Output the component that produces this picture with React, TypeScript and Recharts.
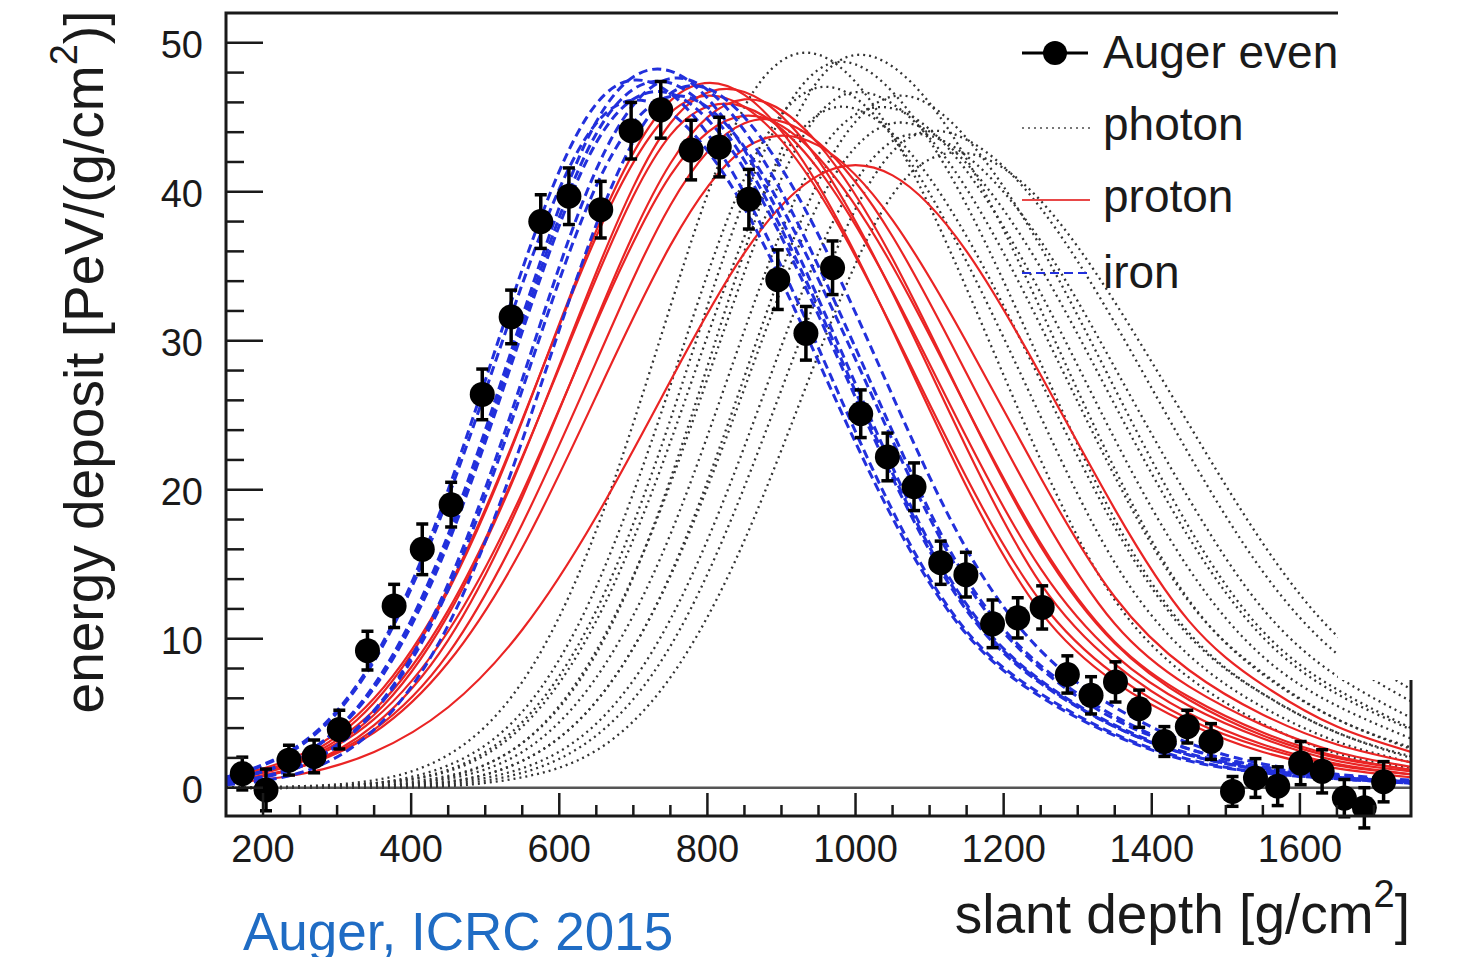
import React from 'react';
import { ComposedChart, Line, Scatter, ErrorBar, XAxis, YAxis, ReferenceLine } from 'recharts';

const FONT = '"Liberation Sans", Arial, Helvetica, sans-serif';
const INK = '#1a1a1a';
const IRON_BLUE = '#2230dc';
const PROTON_RED = '#ea2424';
const PHOTON_GREY = '#333333';
const CAPTION_BLUE = '#1f6cc4';

const W = 1460;
const H = 957;
const PLOT = { left: 226, top: 13, right: 1411, bottom: 816 };

// slant depth grid the simulated profiles are read at
const GRID = [150, 250, 350, 450, 550, 650, 750, 850, 950, 1050, 1150, 1250, 1350, 1450, 1550, 1650, 1750];

// iron (blue dashed)
const IRON_1 = [0.7, 2.9, 8.7, 20.0, 34.8, 45.9, 46.6, 39.9, 29.5, 18.6, 10.5, 6.3, 3.6, 1.9, 1.0, 0.6, 0.3];
const IRON_2 = [0.7, 2.8, 8.5, 19.5, 33.8, 44.6, 45.3, 38.9, 28.6, 18.1, 10.3, 6.1, 3.5, 1.8, 1.0, 0.6, 0.3];
const IRON_3 = [0.5, 2.1, 6.9, 17.0, 31.6, 44.7, 48.1, 42.8, 32.8, 21.5, 12.3, 7.2, 4.2, 2.3, 1.3, 0.7, 0.4];
const IRON_4 = [0.5, 2.1, 6.7, 16.4, 30.6, 43.3, 46.6, 41.5, 31.7, 20.8, 11.9, 7.0, 4.1, 2.2, 1.2, 0.6, 0.4];
const IRON_5 = [0.5, 2.1, 6.8, 16.7, 31.1, 43.9, 47.3, 42.1, 32.2, 21.1, 12.1, 7.1, 4.1, 2.2, 1.2, 0.7, 0.4];
const IRON_6 = [0.3, 1.5, 5.2, 13.7, 27.4, 41.5, 47.6, 44.1, 35.0, 23.9, 14.0, 8.2, 4.8, 2.6, 1.4, 0.8, 0.4];
const IRON_7 = [0.3, 1.4, 5.1, 13.3, 26.7, 40.4, 46.4, 43.0, 34.1, 23.3, 13.7, 8.0, 4.6, 2.6, 1.4, 0.7, 0.4];
const IRON_8 = [0.2, 1.0, 3.9, 10.9, 23.3, 37.8, 46.6, 45.0, 37.1, 26.3, 16.0, 9.2, 5.4, 3.0, 1.6, 0.9, 0.5];

// proton (red solid)
const PROTON_1 = [0.6, 2.0, 5.7, 13.2, 24.6, 37.4, 46.1, 46.5, 40.4, 30.7, 20.2, 11.8, 7.1, 4.3, 2.4, 1.3, 0.7];
const PROTON_2 = [0.7, 2.2, 6.0, 13.4, 24.7, 37.0, 45.3, 45.7, 40.0, 30.8, 20.8, 12.5, 7.6, 4.6, 2.7, 1.5, 0.9];
const PROTON_3 = [0.5, 1.8, 4.9, 11.6, 22.1, 34.6, 44.6, 46.7, 42.1, 33.2, 22.8, 13.7, 8.3, 5.0, 2.9, 1.6, 0.9];
const PROTON_4 = [0.6, 1.9, 5.2, 11.9, 22.2, 34.2, 43.8, 45.7, 41.5, 33.3, 23.5, 14.7, 8.9, 5.5, 3.3, 1.8, 1.1];
const PROTON_5 = [0.4, 1.4, 4.2, 9.9, 19.5, 31.4, 41.9, 46.2, 43.2, 35.5, 25.5, 16.2, 9.7, 5.9, 3.5, 2.0, 1.2];
const PROTON_6 = [0.5, 1.7, 4.6, 10.5, 19.8, 31.2, 41.1, 45.1, 42.3, 35.0, 25.5, 16.4, 9.8, 6.1, 3.7, 2.1, 1.2];
const PROTON_7 = [0.4, 1.4, 3.9, 9.0, 17.7, 28.6, 39.1, 44.6, 43.3, 37.0, 27.8, 18.5, 11.0, 6.8, 4.2, 2.4, 1.4];
const PROTON_8 = [0.4, 1.4, 3.7, 8.4, 16.1, 26.3, 36.4, 42.9, 43.1, 38.1, 29.9, 20.8, 12.8, 7.9, 4.9, 2.9, 1.7];
const PROTON_9 = [0.3, 0.9, 2.4, 5.4, 10.6, 18.2, 27.3, 35.9, 41.1, 41.1, 36.0, 27.7, 18.7, 11.2, 6.9, 4.1, 2.4];

// photon (black dotted)
const PHOTON_1 = [0.0, 0.1, 0.5, 2.2, 7.1, 17.3, 32.3, 45.7, 49.2, 43.8, 33.5, 22.0, 12.6, 7.4, 4.3, 2.3, 1.3];
const PHOTON_2 = [0.0, 0.0, 0.3, 1.5, 5.1, 13.5, 27.0, 40.9, 47.0, 43.7, 35.3, 24.9, 15.1, 8.9, 5.4, 3.1, 1.7];
const PHOTON_3 = [0.0, 0.0, 0.3, 1.2, 4.4, 11.9, 24.7, 39.5, 48.2, 46.7, 39.1, 28.5, 18.0, 10.4, 6.3, 3.7, 2.0];
const PHOTON_4 = [0.0, 0.0, 0.3, 1.1, 4.1, 11.2, 23.2, 37.0, 45.2, 43.9, 37.0, 27.3, 17.5, 10.2, 6.3, 3.7, 2.1];
const PHOTON_5 = [0.0, 0.0, 0.1, 0.7, 3.0, 9.0, 20.7, 36.0, 47.5, 48.4, 42.2, 32.1, 21.4, 12.6, 7.6, 4.6, 2.6];
const PHOTON_6 = [0.0, 0.0, 0.2, 0.8, 3.0, 9.2, 20.4, 34.6, 45.2, 45.9, 40.2, 31.0, 20.9, 12.5, 7.7, 4.6, 2.7];
const PHOTON_7 = [0.0, 0.0, 0.1, 0.6, 2.4, 7.4, 17.0, 30.7, 42.5, 45.6, 41.4, 33.2, 23.4, 14.7, 8.8, 5.5, 3.3];
const PHOTON_8 = [0.0, 0.0, 0.1, 0.4, 1.8, 5.8, 14.3, 27.6, 40.7, 46.4, 43.6, 36.3, 26.8, 17.5, 10.5, 6.6, 4.0];
const PHOTON_9 = [0.0, 0.0, 0.1, 0.4, 1.8, 5.8, 14.2, 26.8, 39.2, 44.6, 41.9, 34.9, 25.7, 16.8, 10.1, 6.3, 3.9];
const PHOTON_10 = [0.0, 0.0, 0.0, 0.3, 1.3, 4.3, 11.3, 22.9, 35.9, 43.4, 42.4, 36.7, 28.2, 19.4, 12.0, 7.5, 4.7];
const PHOTON_11 = [0.0, 0.0, 0.0, 0.2, 1.0, 3.5, 9.5, 20.2, 33.2, 42.7, 43.5, 38.9, 31.2, 22.4, 14.5, 9.0, 5.8];
const PHOTON_12 = [0.0, 0.0, 0.0, 0.1, 0.7, 2.5, 7.4, 16.6, 29.1, 39.8, 42.6, 39.4, 32.6, 24.4, 16.4, 10.2, 6.6];

// measured event
const AUGER_X = [172, 204, 235, 269, 303, 341, 377, 415, 454, 496, 535, 575, 613, 656, 697, 737, 778, 816, 856, 895, 933, 969, 1007, 1043, 1079, 1115, 1149, 1185, 1219, 1252, 1286, 1318, 1351, 1383, 1417, 1448, 1480, 1509, 1540, 1570, 1601, 1630, 1660, 1687, 1713];
const AUGER_Y = [0.95, -0.15, 1.85, 2.1, 3.9, 9.2, 12.2, 16.0, 19.0, 26.4, 31.6, 38.0, 39.7, 38.8, 44.1, 45.5, 42.8, 43.0, 39.5, 34.1, 30.5, 34.9, 25.1, 22.2, 20.2, 15.1, 14.3, 11.0, 11.4, 12.1, 7.6, 6.2, 7.1, 5.3, 3.1, 4.1, 3.1, -0.25, 0.65, 0.1, 1.65, 1.1, -0.7, -1.35, 0.4];
const AUGER_ERR = [1.1, 1.4, 1.0, 1.1, 1.3, 1.3, 1.45, 1.7, 1.5, 1.7, 1.8, 1.8, 1.9, 1.9, 1.9, 1.9, 2.0, 2.0, 2.0, 2.0, 1.8, 1.8, 1.6, 1.6, 1.6, 1.45, 1.5, 1.6, 1.35, 1.45, 1.25, 1.25, 1.35, 1.25, 1.0, 1.1, 1.2, 1.0, 1.3, 1.3, 1.45, 1.45, 1.25, 1.35, 1.35];

const X_TICKS = [200, 250, 300, 350, 400, 450, 500, 550, 600, 650, 700, 750, 800, 850, 900, 950, 1000, 1050, 1100, 1150, 1200, 1250, 1300, 1350, 1400, 1450, 1500, 1550, 1600, 1650, 1700];
const Y_TICKS = [0, 2, 4, 6, 8, 10, 12, 14, 16, 18, 20, 22, 24, 26, 28, 30, 32, 34, 36, 38, 40, 42, 44, 46, 48, 50];

const IRON = [IRON_1, IRON_2, IRON_3, IRON_4, IRON_5, IRON_6, IRON_7, IRON_8];
const PROTON = [PROTON_1, PROTON_2, PROTON_3, PROTON_4, PROTON_5, PROTON_6, PROTON_7, PROTON_8, PROTON_9];
const PHOTON = [PHOTON_1, PHOTON_2, PHOTON_3, PHOTON_4, PHOTON_5, PHOTON_6, PHOTON_7, PHOTON_8, PHOTON_9, PHOTON_10, PHOTON_11, PHOTON_12];

const rows = GRID.map((x, i) => {
  const r: Record<string, number> = { x };
  IRON.forEach((c, k) => { r[`fe${k}`] = c[i]; });
  PROTON.forEach((c, k) => { r[`p${k}`] = c[i]; });
  PHOTON.forEach((c, k) => { r[`g${k}`] = c[i]; });
  return r;
});

const auger = AUGER_X.map((x, i) => ({ x, y: AUGER_Y[i], err: AUGER_ERR[i] }));

function YTick(props: any) {
  const { y, payload } = props;
  const v = payload.value;
  const major = v % 10 === 0;
  return (
    <g>
      <line x1={PLOT.left} x2={PLOT.left + (major ? 37 : 18)} y1={y} y2={y} stroke={INK} strokeWidth={2.5} />
      {major && (
        <text x={203} y={y + 15} textAnchor="end" fontSize={38} fontFamily={FONT} fill={INK}>{v}</text>
      )}
    </g>
  );
}

function XTick(props: any) {
  const { x, payload } = props;
  const v = payload.value;
  const major = v % 200 === 0;
  return (
    <g>
      <line x1={x} x2={x} y1={PLOT.bottom} y2={PLOT.bottom - (major ? 23 : 11)} stroke={INK} strokeWidth={2.5} />
      {major && (
        <text x={x} y={862} textAnchor="middle" fontSize={38} fontFamily={FONT} fill={INK}>{v}</text>
      )}
    </g>
  );
}

const EventDot = (p: any) => <circle cx={p.cx} cy={p.cy} r={12.5} fill="#000" />;

export default function App() {
  return (
    <div style={{ position: 'absolute', left: 0, top: 0, width: W, height: H, background: '#fff', overflow: 'hidden' }}>
      <ComposedChart
        width={W}
        height={H}
        data={rows}
        margin={{ top: PLOT.top, right: W - PLOT.right, bottom: 0, left: 0 }}
      >
        <XAxis
          dataKey="x"
          type="number"
          domain={[150, 1750]}
          allowDataOverflow
          ticks={X_TICKS}
          interval={0}
          tick={XTick}
          tickLine={false}
          axisLine={false}
          height={H - PLOT.bottom}
        />
        <YAxis
          type="number"
          domain={[-1.9, 52]}
          allowDataOverflow
          ticks={Y_TICKS}
          interval={0}
          tick={YTick}
          tickLine={false}
          axisLine={false}
          width={PLOT.left}
        />
        <ReferenceLine y={0} stroke="#555" strokeWidth={2.5} />
        {PHOTON.map((_, k) => (
          <Line key={`g${k}`} type="natural" dataKey={`g${k}`} stroke={PHOTON_GREY} strokeWidth={2.3}
            strokeDasharray="2 4" dot={false} activeDot={false} isAnimationActive={false} />
        ))}
        {PROTON.map((_, k) => (
          <Line key={`p${k}`} type="natural" dataKey={`p${k}`} stroke={PROTON_RED} strokeWidth={2.2}
            dot={false} activeDot={false} isAnimationActive={false} />
        ))}
        {IRON.map((_, k) => (
          <Line key={`fe${k}`} type="natural" dataKey={`fe${k}`} stroke={IRON_BLUE} strokeWidth={3}
            strokeDasharray="9 5" dot={false} activeDot={false} isAnimationActive={false} />
        ))}
        <Scatter data={auger} dataKey="y" shape={EventDot} isAnimationActive={false}>
          <ErrorBar dataKey="err" direction="y" width={6} stroke="#000" strokeWidth={3.5} isAnimationActive={false} />
        </Scatter>
      </ComposedChart>

      <svg width={W} height={H} style={{ position: 'absolute', left: 0, top: 0, pointerEvents: 'none' }}>
        <rect x={PLOT.left} y={PLOT.top} width={PLOT.right - PLOT.left} height={PLOT.bottom - PLOT.top}
          fill="none" stroke={INK} strokeWidth={3} />

        <text transform="rotate(-90, 103, 362)" x={103} y={362} textAnchor="middle" fontSize={55} fontFamily={FONT} fill={INK}>
          energy deposit [PeV/(g/cm<tspan fontSize={38} dy={-26}>2</tspan><tspan dy={26}>)]</tspan>
        </text>
        <text x={1410} y={933} textAnchor="end" fontSize={55} fontFamily={FONT} fill={INK}>
          slant depth [g/cm<tspan fontSize={38} dy={-26}>2</tspan><tspan dy={26}>]</tspan>
        </text>
        <text x={243} y={950} fontSize={53} fontFamily={FONT} fill={CAPTION_BLUE}>Auger, ICRC 2015</text>

        <g fontFamily={FONT} fontSize={46} fill={INK}>
          <line x1={1022} x2={1088} y1={53} y2={53} stroke="#000" strokeWidth={3} />
          <circle cx={1055} cy={53} r={12} fill="#000" />
          <text x={1103} y={68}>Auger events</text>
          <line x1={1022} x2={1090} y1={128} y2={128} stroke="#777" strokeWidth={2.2} strokeDasharray="2 4" />
          <text x={1103} y={140}>photon</text>
          <line x1={1022} x2={1090} y1={200} y2={200} stroke="#e84848" strokeWidth={2.2} />
          <text x={1103} y={212}>proton</text>
          <line x1={1022} x2={1090} y1={273} y2={273} stroke={IRON_BLUE} strokeWidth={2} strokeDasharray="9 5" />
          <text x={1103} y={288}>iron</text>
        </g>
      </svg>

      <div style={{ position: 'absolute', left: 1338, top: 0, width: W - 1338, height: 680, background: '#fff' }} />
    </div>
  );
}
